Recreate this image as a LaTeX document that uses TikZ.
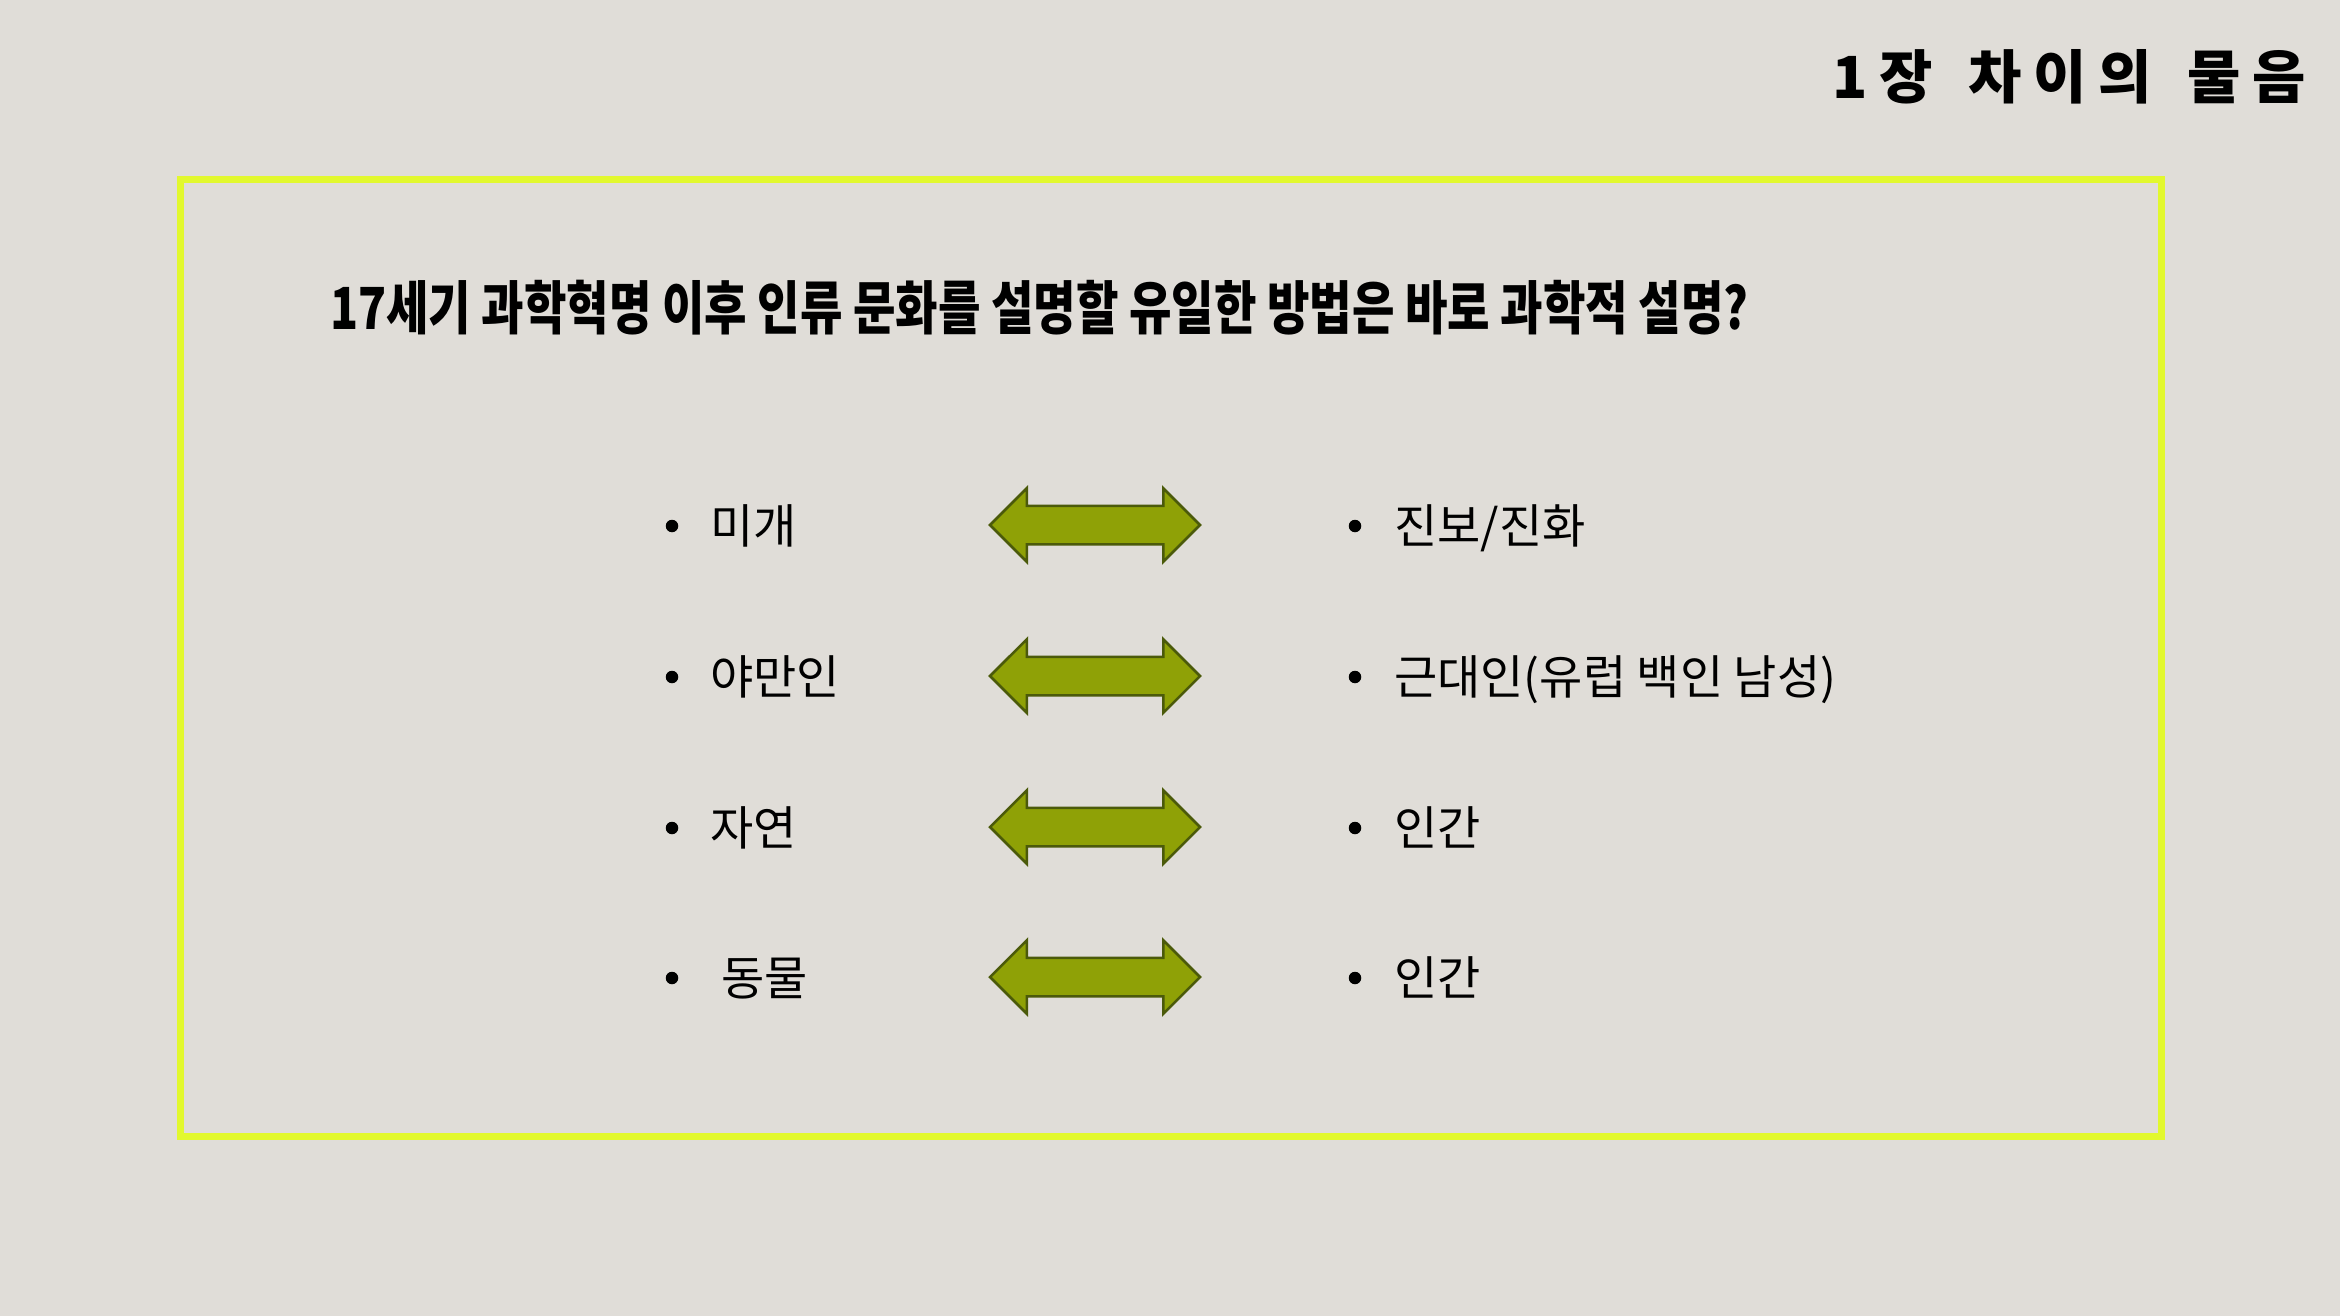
\documentclass[tikz,border=0pt]{standalone}
\usepackage{fontspec}
\newfontfamily\kr{Noto Sans CJK KR}
\newfontfamily\krhead{Noto Sans CJK KR}[FakeStretch=0.796]
\usetikzlibrary{shapes.arrows}
\definecolor{bgc}{RGB}{224,221,216}
\definecolor{framec}{RGB}{226,248,46}
\definecolor{arrowfill}{RGB}{143,161,6}
\definecolor{arrowline}{RGB}{75,90,10}
\newcommand{\lsp}{\kern 12pt}
\newcommand{\wsp}{\kern 35pt}
\tikzset{
  titletext/.style={inner sep=0pt, font=\kr\bfseries\fontsize{58}{64}\selectfont},
  headtext/.style={inner sep=0pt, font=\krhead\bfseries\fontsize{58}{64}\selectfont},
  itemtext/.style={inner sep=0pt, anchor=base west, font=\kr\fontsize{47}{52}\selectfont},
  bul/.style={circle, fill=black, inner sep=0pt, minimum size=12.5pt},
  dblarrow/.style={double arrow, draw=arrowline, fill=arrowfill, line width=2.5pt,
    minimum height=210pt, inner xsep=0pt, inner ysep=18pt,
    double arrow head extend=17.5pt, double arrow tip angle=90, outer sep=0pt},
  framebox/.style={draw=framec, line width=7pt}
}
\begin{document}
\begin{tikzpicture}[x=1pt,y=-1pt]
\fill[bgc] (0,0) rectangle (2340,1316);
\useasboundingbox (0,0) rectangle (2340,1316);
\draw[framebox] (180.5,179.5) rectangle (2161.5,1136.5);
\node[titletext, anchor=base east] (title) at (2306,99) {1\lsp 장\wsp 차\lsp 이\lsp 의\wsp 물\lsp 음};
\node[headtext, anchor=base west] (head) at (330,329) {17세기 과학혁명 이후 인류 문화를 설명할 유일한 방법은 바로 과학적 설명?};
% row 1
\node[bul] (lb1) at (672,526) {};
\node[itemtext] (lt1) at (710,543) {미개};
\node[dblarrow] (ar1) at (1095,525) {};
\node[bul] (rb1) at (1355,526) {};
\node[itemtext] (rt1) at (1394,543) {진보/진화};
% row 2
\node[bul] (lb2) at (672,677) {};
\node[itemtext] (lt2) at (710,694) {야만인};
\node[dblarrow] (ar2) at (1095,676) {};
\node[bul] (rb2) at (1355,677) {};
\node[itemtext] (rt2) at (1394,694) {근대인(유럽 백인 남성)};
% row 3
\node[bul] (lb3) at (672,828) {};
\node[itemtext] (lt3) at (710,845) {자연};
\node[dblarrow] (ar3) at (1095,827) {};
\node[bul] (rb3) at (1355,828) {};
\node[itemtext] (rt3) at (1394,845) {인간};
% row 4
\node[bul] (lb4) at (672,978) {};
\node[itemtext] (lt4) at (721,995) {동물};
\node[dblarrow] (ar4) at (1095,977) {};
\node[bul] (rb4) at (1355,978) {};
\node[itemtext] (rt4) at (1394,995) {인간};
\end{tikzpicture}
\end{document}
